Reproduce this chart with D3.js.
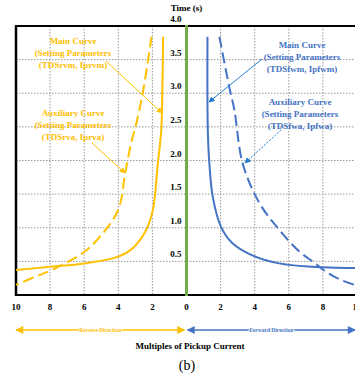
<!DOCTYPE html>
<html>
<head>
<meta charset="utf-8">
<script src="https://cdn.jsdelivr.net/npm/d3@7"></script>
<style>
  body { margin: 0; background: #fff; }
  svg { font-family: "Liberation Serif", "Times New Roman", serif; }
</style>
</head>
<body>
<div id="chart"></div>
<script>
// Tick values (multiples of pickup current, both directions) and time ticks
var xTicks = [-10, -8, -6, -4, -2, 0, 2, 4, 6, 8, 10];
var yTicks = [0.5, 1.0, 1.5, 2.0, 2.5, 3.0, 3.5, 4.0];

// Reverse main curve (solid, yellow)
var revMainM = [1.37, 1.42, 1.48, 1.68, 1.97, 2.36, 3.14, 4, 6, 8, 10];
var revMainT = [3.84, 3.0, 2.45, 1.96, 1.27, 0.97, 0.70, 0.57, 0.47, 0.42, 0.37];

// Reverse auxiliary curve (dashed, yellow)
var revAuxM = [2.05, 2.57, 3.04, 3.16, 3.33, 3.6, 4.0, 5.1, 6.0, 8.0, 8.9, 10];
var revAuxT = [3.84, 3.0, 2.45, 2.35, 2.16, 1.81, 1.27, 0.86, 0.64, 0.36, 0.27, 0.15];

// Forward main curve (solid, blue)
var fwdMainM = [1.23, 1.25, 1.34, 1.54, 2.03, 2.7, 3.86, 5.44, 7.4, 10];
var fwdMainT = [3.84, 2.45, 1.96, 1.46, 1.01, 0.77, 0.59, 0.47, 0.42, 0.40];

// Forward auxiliary curve (dashed, blue)
var fwdAuxM = [1.93, 2.51, 2.81, 3.29, 4.27, 5.44, 6.6, 7.5, 8.1, 9.0, 10];
var fwdAuxT = [3.84, 3.09, 2.75, 1.96, 1.37, 0.97, 0.65, 0.48, 0.36, 0.23, 0.14];

var yellow = "#FFC000";
var blue = "#4472C4";
var arrowBlue = "#1F7CD0";

var svgWidth = 355;
var svgHeight = 382;

var svg = d3.select("#chart")
  .append("svg")
  .attr("width", svgWidth)
  .attr("height", svgHeight);

// signed x: negative = reverse direction
var xScale = d3.scaleLinear().domain([-10, 10]).range([16, 357]);
var yScale = d3.scaleLinear().domain([0, 4]).range([295, 26]);

var defs = svg.append("defs");
function marker(id, color, w, h) {
  defs.append("marker")
    .attr("id", id)
    .attr("viewBox", "0 0 10 10")
    .attr("refX", 9).attr("refY", 5)
    .attr("markerWidth", w).attr("markerHeight", h)
    .attr("markerUnits", "userSpaceOnUse")
    .attr("orient", "auto-start-reverse")
    .append("path")
    .attr("d", "M0,0 L10,5 L0,10 z")
    .attr("fill", color);
}
marker("arrY", yellow, 6, 6);
marker("arrB", arrowBlue, 6, 6);
marker("bigY", yellow, 10, 8);
marker("bigB", blue, 10, 8);

// grid
var grid = svg.append("g");
grid.selectAll("line.v")
  .data(xTicks.filter(d => d !== 0 && Math.abs(d) !== 10))
  .enter().append("line")
  .attr("x1", d => xScale(d)).attr("x2", d => xScale(d))
  .attr("y1", yScale(4)).attr("y2", yScale(0))
  .attr("stroke", "#999").attr("stroke-width", 1)
  .attr("stroke-dasharray", "1.5,1.5");
grid.selectAll("line.h")
  .data(yTicks.filter(d => d < 4))
  .enter().append("line")
  .attr("x1", xScale(-10)).attr("x2", xScale(10))
  .attr("y1", d => yScale(d)).attr("y2", d => yScale(d))
  .attr("stroke", "#999").attr("stroke-width", 1)
  .attr("stroke-dasharray", "1.5,1.5");

// frame
svg.append("line")
  .attr("x1", xScale(-10)).attr("x2", xScale(10))
  .attr("y1", yScale(4)).attr("y2", yScale(4))
  .attr("stroke", "#000").attr("stroke-width", 2);
svg.append("line")
  .attr("x1", xScale(-10)).attr("x2", xScale(10))
  .attr("y1", yScale(0)).attr("y2", yScale(0))
  .attr("stroke", "#000").attr("stroke-width", 2);
svg.append("line")
  .attr("x1", xScale(-10)).attr("x2", xScale(-10))
  .attr("y1", yScale(4) - 1).attr("y2", yScale(0) + 1)
  .attr("stroke", "#000").attr("stroke-width", 2.5);

// curves
var line = d3.line()
  .x(d => xScale(d[0]))
  .y(d => yScale(d[1]))
  .curve(d3.curveCatmullRom.alpha(0.5));

function curve(mArr, tArr, sign, color, dashed) {
  var pts = mArr.map((m, i) => [sign * m, tArr[i]]);
  svg.append("path")
    .attr("d", line(pts))
    .attr("fill", "none")
    .attr("stroke", color)
    .attr("stroke-width", 2)
    .attr("stroke-dasharray", dashed ? "11,5" : null);
}
curve(revAuxM, revAuxT, -1, yellow, true);
curve(revMainM, revMainT, -1, yellow, false);
curve(fwdAuxM, fwdAuxT, 1, blue, true);
curve(fwdMainM, fwdMainT, 1, blue, false);

// green centre line
svg.append("line")
  .attr("x1", xScale(0)).attr("x2", xScale(0))
  .attr("y1", yScale(4) - 1).attr("y2", yScale(0) + 1)
  .attr("stroke", "#70AD47").attr("stroke-width", 3);

// y tick labels
svg.append("g").selectAll("text")
  .data(yTicks)
  .enter().append("text")
  .attr("x", xScale(0) - 5)
  .attr("y", d => yScale(d) - 4)
  .attr("text-anchor", "end")
  .attr("font-size", "9px")
  .style("font-weight", "bold")
  .text(d => d.toFixed(1));

svg.append("text")
  .attr("x", xScale(0))
  .attr("y", 11)
  .attr("text-anchor", "middle")
  .attr("font-size", "9px")
  .style("font-weight", "bold")
  .text("Time (s)");

// x tick labels
svg.append("g").selectAll("text")
  .data(xTicks)
  .enter().append("text")
  .attr("x", d => xScale(d))
  .attr("y", 310)
  .attr("text-anchor", "middle")
  .attr("font-size", "9px")
  .style("font-weight", "bold")
  .text(d => Math.abs(d));

// direction arrows
function direction(x1, x2, color, id, label) {
  svg.append("line")
    .attr("x1", x1).attr("x2", x2)
    .attr("y1", 330).attr("y2", 330)
    .attr("stroke", color).attr("stroke-width", 1.5)
    .attr("marker-start", "url(#" + id + ")")
    .attr("marker-end", "url(#" + id + ")");
  svg.append("text")
    .attr("x", (x1 + x2) / 2)
    .attr("y", 332)
    .attr("text-anchor", "middle")
    .attr("font-size", "5.5px")
    .attr("fill", color)
    .style("font-weight", "bold")
    .attr("stroke", "#fff").attr("stroke-width", 2)
    .attr("paint-order", "stroke")
    .text(label);
}
direction(xScale(-10), xScale(0) - 2, yellow, "bigY", "Reverse Direction");
direction(xScale(0) + 1, 355, blue, "bigB", "Forward Direction");

svg.append("text")
  .attr("x", 190)
  .attr("y", 349)
  .attr("text-anchor", "middle")
  .attr("font-size", "9px")
  .style("font-weight", "bold")
  .text("Multiples of Pickup Current");

svg.append("text")
  .attr("x", 187)
  .attr("y", 370)
  .attr("text-anchor", "middle")
  .attr("font-size", "14px")
  .text("(b)");

// annotations
function note(x, y, lines, color) {
  var t = svg.append("text")
    .attr("text-anchor", "middle")
    .attr("font-size", "9px")
    .attr("fill", color)
    .style("font-weight", "bold");
  lines.forEach(function(s, i) {
    t.append("tspan").attr("x", x).attr("y", y + i * 12).text(s);
  });
}
note(73, 44, ["Main Curve", "(Setting Parameters", "(TDSrvm, Iprvm)"], yellow);
note(73, 116, ["Auxiliary Curve", "(Setting Parameters", "(TDSrva, Iprva)"], yellow);
note(302, 48, ["Main Curve", "(Setting Parameters", "(TDSfwm, Ipfwm)"], blue);
note(300, 105, ["Auxiliary Curve", "(Setting Parameters", "(TDSfwa, Ipfwa)"], blue);

function pointer(x1, y1, x2, y2, color, id, dash) {
  svg.append("line")
    .attr("x1", x1).attr("y1", y1).attr("x2", x2).attr("y2", y2)
    .attr("stroke", color).attr("stroke-width", 1)
    .attr("stroke-dasharray", dash)
    .attr("marker-end", "url(#" + id + ")");
}
pointer(106, 61, 162, 113, yellow, "arrY", null);
pointer(92, 143, 125, 173, yellow, "arrY", null);
pointer(262, 59, 209, 102, arrowBlue, "arrB", null);
pointer(281, 130, 245, 163, arrowBlue, "arrB", "2,1.5");
</script>
</body>
</html>
